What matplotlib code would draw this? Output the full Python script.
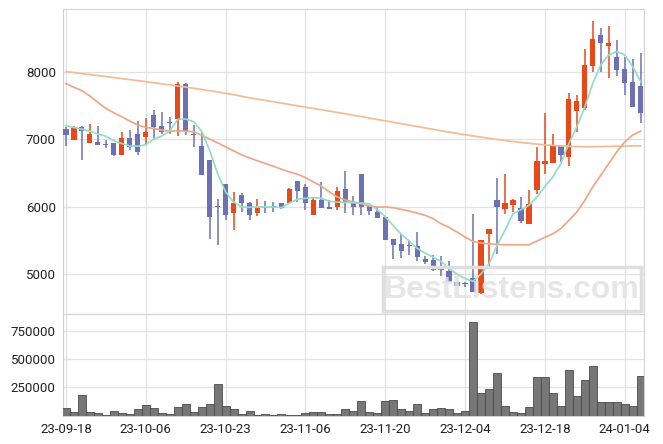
import matplotlib
matplotlib.use('Agg')
import matplotlib.pyplot as plt
from matplotlib.patches import Rectangle
import numpy as np

plt.rcParams['font.family'] = ['Roboto', 'DejaVu Sans']

date_labels = ['23-09-18', '23-10-06', '23-10-23', '23-11-06', '23-11-20',
               '23-12-04', '23-12-18', '24-01-04']
tick_idx = [0, 10, 20, 30, 40, 50, 60, 70]

opens = [7154, 6990, 7184, 6950, 6960, 6935, 6945, 6771, 7015, 7080,
         7040, 7363, 7199, 7264, 7299, 7826, 7080, 6901, 6692, 6010,
         6343, 5905, 6179, 6060, 5905, 6000, 6005, 6060, 6055, 6378,
         6289, 5876, 6095, 5990, 5995, 6259, 6060, 6493, 6005, 5920,
         5841, 5513, 5443, 5433, 5418, 5214, 5209, 5070, 5050, 4886,
         4856, 4945, 4711, 5597, 6095, 5970, 6030, 5985, 5746, 6254,
         6637, 6647, 6896, 6741, 7428, 7473, 8100, 8562, 8398, 8229,
         8050, 7861, 7796]
closes = [7070, 7164, 7129, 7080, 6920, 6925, 6771, 7015, 6890, 6821,
          7109, 7189, 7114, 7249, 7826, 7129, 7070, 6473, 5846, 5995,
          5881, 6060, 6060, 5881, 5985, 5985, 5985, 5985, 6259, 6234,
          6055, 6095, 5985, 5965, 6229, 6055, 5995, 5995, 5935, 5836,
          5498, 5423, 5338, 5418, 5249, 5174, 5060, 5060, 4876, 4816,
          4846, 4726, 5508, 5672, 5995, 6050, 6095, 5786, 6035, 6677,
          6677, 6906, 6771, 7602, 7572, 8109, 8498, 8433, 8438, 8040,
          7846, 7488, 7388]
highs = [7189, 7194, 7194, 7229, 7199, 6990, 6945, 7109, 7134, 7269,
         7323, 7438, 7403, 7328, 7851, 7841, 7214, 7114, 6692, 6119,
         6343, 6219, 6204, 6075, 6119, 6085, 6075, 6060, 6274, 6378,
         6343, 6134, 6368, 6095, 6299, 6537, 6154, 6493, 6005, 5995,
         5841, 5513, 5587, 5498, 5627, 5264, 5274, 5264, 5199, 4886,
         4876, 5896, 5508, 5672, 6433, 6493, 6110, 6144, 6254, 6886,
         7398, 7075, 6896, 7687, 7657, 8343, 8761, 8657, 8682, 8478,
         8224, 8194, 8284]
lows = [6900, 6990, 6701, 6950, 6920, 6866, 6751, 6771, 6841, 6776,
        6940, 6990, 7080, 7080, 7050, 7065, 6881, 6473, 5522, 5433,
        5796, 5647, 5920, 5796, 5856, 5910, 5920, 5960, 6055, 6070,
        5955, 5876, 5985, 5965, 5950, 5910, 5881, 5881, 5881, 5836,
        5498, 5214, 5229, 5284, 5189, 5149, 5040, 4975, 4876, 4816,
        4811, 4726, 4701, 5090, 5299, 5886, 5920, 5756, 5746, 6194,
        6493, 6647, 6667, 6607, 7104, 7438, 8010, 8010, 7910, 7940,
        7657, 7488, 7249]
volumes = [69000, 36000, 178000, 36000, 24000, 6000, 45000, 24000, 18000, 54000,
           96000, 63000, 24000, 18000, 78000, 105000, 36000, 78000, 105000, 277000,
           87000, 60000, 18000, 45000, 6000, 15000, 6000, 15000, 6000, 2000,
           24000, 36000, 36000, 18000, 18000, 54000, 45000, 126000, 36000, 27000,
           126000, 135000, 54000, 45000, 105000, 27000, 54000, 69000, 54000, 27000,
           45000, 828000, 196000, 232000, 376000, 87000, 36000, 27000, 78000, 340000,
           340000, 196000, 87000, 404000, 169000, 313000, 440000, 123000, 123000, 123000,
           105000, 87000, 349000]
ma5 = [7204, 7179, 7154, 7124, 7080, 7050, 6980, 6940, 6905, 6900,
       6920, 7005, 7050, 7124, 7299, 7303, 7264, 7124, 6841, 6493,
       6219, 6070, 5995, 5990, 5995, 5995, 5995, 5985, 6055, 6110,
       6125, 6135, 6124, 6080, 6068, 6065, 6058, 6052, 6045, 5955,
       5850, 5720, 5590, 5490, 5380, 5310, 5250, 5185, 5080, 4995,
       4930, 4890, 5000, 5149, 5423, 5647, 5896, 5955, 6020, 6144,
       6300, 6443, 6642, 6940, 7189, 7488, 7836, 8109, 8259, 8308,
       8259, 8085, 7861]
ma20 = [7831, 7776, 7726, 7647, 7552, 7463, 7398, 7338, 7274, 7214,
        7180, 7164, 7139, 7124, 7129, 7124, 7114, 7065, 7005, 6950,
        6891, 6831, 6771, 6725, 6682, 6642, 6602, 6557, 6517, 6483,
        6433, 6368, 6304, 6219, 6144, 6100, 6070, 6045, 6010, 5995,
        5995, 5985, 5960, 5935, 5905, 5871, 5821, 5746, 5690, 5622,
        5547, 5483, 5458, 5448, 5438, 5433, 5433, 5433, 5433, 5488,
        5545, 5597, 5672, 5796, 5920, 6095, 6294, 6468, 6642, 6816,
        6965, 7065, 7124]
ma_long = [8010, 7996, 7981, 7966, 7951, 7936, 7921, 7906, 7891, 7876,
           7861, 7845, 7829, 7812, 7796, 7779, 7762, 7744, 7726, 7707,
           7687, 7667, 7643, 7620, 7600, 7580, 7561, 7541, 7521, 7501,
           7481, 7461, 7442, 7422, 7402, 7382, 7361, 7340, 7319, 7298,
           7277, 7256, 7235, 7214, 7193, 7172, 7151, 7130, 7110, 7090,
           7071, 7053, 7035, 7018, 7001, 6985, 6970, 6956, 6943, 6931,
           6920, 6911, 6904, 6898, 6894, 6891, 6892, 6894, 6897, 6900,
           6903, 6905, 6906]

UP = '#e8491a'
DOWN = '#6d71b3'
GRID = '#e2e2e2'
SPINE = '#d2d2d2'

W, H = 663, 444
fig = plt.figure(figsize=(W / 100, H / 100), dpi=100)
L, R, T, M, B = 62.7, 644.3, 9.3, 314.0, 415.6
ax = fig.add_axes([L / W, 1 - M / H, (R - L) / W, (M - T) / H])
axv = fig.add_axes([L / W, 1 - B / H, (R - L) / W, (B - M) / H], sharex=ax)

x = np.arange(len(opens))
o = np.array(opens, float)
c = np.array(closes, float)
hi = np.array(highs, float)
lo = np.array(lows, float)
up = c >= o
cols = [UP if u else DOWN for u in up]

ax.vlines(x, lo, hi, colors=cols, linewidth=1.1, zorder=3)
body_h = np.maximum(np.abs(c - o), 14)
body_b = np.minimum(o, c)
ax.bar(x, body_h, bottom=body_b, width=0.66, color=cols, linewidth=0, zorder=3)

ax.plot(x, ma_long, color='#f2bb94', linewidth=1.25, zorder=4)
ax.plot(x, ma20, color='#efa688', linewidth=1.25, zorder=4)
ax.plot(x, ma5, color='#93ddc6', linewidth=1.25, zorder=4)

ax.set_xlim(-0.4, 72.45)
ax.set_ylim(4403, 8937)
ax.set_yticks([5000, 6000, 7000, 8000])
ax.set_xticks(tick_idx)
ax.tick_params(labelbottom=False, length=0, labelsize=9.5, colors='#222222', pad=5)
ax.grid(True, color=GRID, linewidth=0.9, zorder=0)
ax.set_axisbelow(True)
for s in ax.spines.values():
    s.set_color(SPINE)

axv.bar(x, volumes, width=1.0, color='#777777', edgecolor='#4a4a4a', linewidth=0.6, zorder=3)
axv.set_ylim(0, 897000)
axv.set_yticks([250000, 500000, 750000])
axv.set_yticklabels(['250000', '500000', '750000'])
axv.set_xticks(tick_idx)
axv.set_xticklabels(date_labels)
axv.tick_params(length=0, labelsize=9.5, colors='#222222', pad=5)
axv.grid(True, color=GRID, linewidth=0.9, zorder=0)
axv.set_axisbelow(True)
for s in axv.spines.values():
    s.set_color(SPINE)

# watermark
bx0, bx1, by0, by1 = 383, 641, 267, 311
fig.patches.append(Rectangle((bx0 / W, 1 - by1 / H), (bx1 - bx0) / W, (by1 - by0) / H,
                             transform=fig.transFigure, fill=False,
                             edgecolor='#dedede', linewidth=2.5, zorder=1))
fig.text((bx0 + bx1) / 2 / W, 1 - 290 / H, 'BestListens.com', ha='center', va='center',
         fontsize=23, fontweight='bold', color='#e2e2e2', family='Liberation Sans',
         alpha=0.85, zorder=1)

fig.savefig('out.png', dpi=100)
